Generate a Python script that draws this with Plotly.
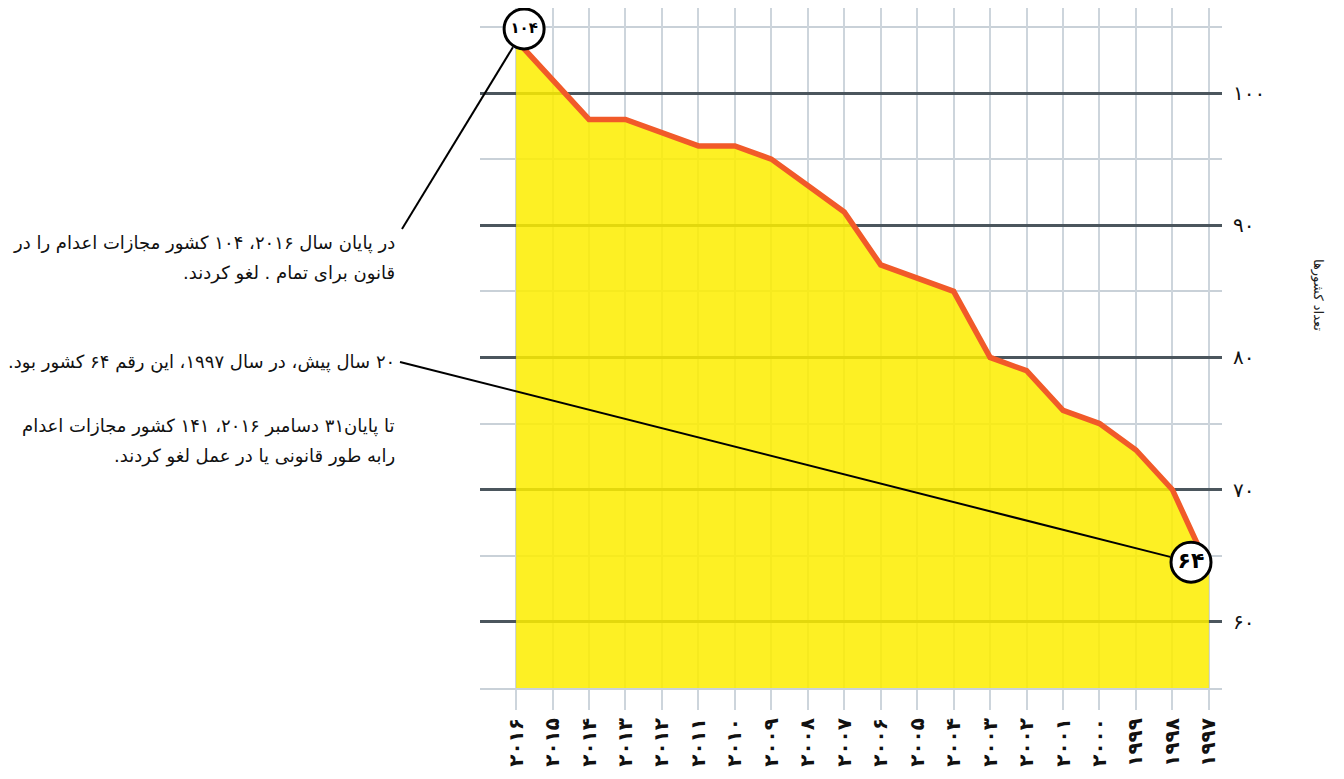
import plotly.graph_objects as go

# ---------------- data ----------------
years = [2016, 2015, 2014, 2013, 2012, 2011, 2010, 2009, 2008, 2007,
         2006, 2005, 2004, 2003, 2002, 2001, 2000, 1999, 1998, 1997]
countries = [104, 101, 98, 98, 97, 96, 96, 95, 93, 91,
             87, 86, 85, 80, 79, 76, 75, 73, 70, 64]
year_labels = ["۲۰۱۶", "۲۰۱۵", "۲۰۱۴", "۲۰۱۳", "۲۰۱۲", "۲۰۱۱", "۲۰۱۰", "۲۰۰۹", "۲۰۰۸", "۲۰۰۷",
               "۲۰۰۶", "۲۰۰۵", "۲۰۰۴", "۲۰۰۳", "۲۰۰۲", "۲۰۰۱", "۲۰۰۰", "۱۹۹۹", "۱۹۹۸", "۱۹۹۷"]
y_tick_vals = [60, 70, 80, 90, 100]
y_tick_labels = ["۶۰", "۷۰", "۸۰", "۹۰", "۱۰۰"]
callout_labels = ["۱۰۴", "۶۴"]
y_title = "تعداد کشورها"
note_lines = [
    "در پایان سال ۲۰۱۶، ۱۰۴ کشور مجازات اعدام را در",
    "قانون برای تمام . لغو کردند.",
    "۲۰ سال پیش، در سال ۱۹۹۷، این رقم ۶۴ کشور بود.",
    "تا پایان۳۱ دسامبر ۲۰۱۶، ۱۴۱ کشور مجازات اعدام",
    "رابه طور قانونی یا در عمل لغو کردند.",
]
note_line_y = [243, 273, 362, 426, 456]   # pixel rows of the text lines

# ---------------- layout geometry ----------------
OFF = 8                      # page body margin of the html page
W, H = 1344 - OFF, 779 - OFF
ML, MT = 480 - OFF, 0
PW, PH = 742, 680
MR, MB = W - ML - PW, H - MT - PH
x_range = [2016.99, 1996.64]
y_range = [55, 106.43]

FONT = "DejaVu Sans"
DARK_GRID = "#4b565d"
LIGHT_GRID = "#c9d1d8"
VGRID = "#cdd5dc"
ORANGE = "#f15a29"
YELLOW = "rgba(253,237,0,0.86)"
RLE, PDF = "\u202b", "\u202c"


def px_to_paper(px, py):
    """page pixel -> paper coordinates"""
    return (px - OFF - ML) / PW, (H - MB - (py - OFF)) / PH


def data_to_page(x, y):
    fx = (x - x_range[0]) / (x_range[1] - x_range[0])
    fy = (y - y_range[0]) / (y_range[1] - y_range[0])
    return OFF + ML + fx * PW, OFF + H - MB - fy * PH


fig = go.Figure()

fig.add_trace(go.Scatter(
    x=years, y=countries, mode="lines",
    line=dict(color=ORANGE, width=5.5),
    fill="tozeroy", fillcolor=YELLOW,
    hoverinfo="skip", showlegend=False,
))

# callout circles (offset slightly from the first / last data point)
c_off = [(-0.22, 0.85), (0.49, 0.52)]
cx = [years[0] + c_off[0][0], years[-1] + c_off[1][0]]
cy = [countries[0] + c_off[0][1], countries[-1] + c_off[1][1]]
fig.add_trace(go.Scatter(
    x=cx, y=cy, mode="markers+text",
    marker=dict(size=40, color="white", line=dict(color="black", width=3)),
    text=[f"<b>{t}</b>" for t in callout_labels],
    textfont=dict(family=FONT, size=[15, 22], color="black"),
    textposition="middle center",
    cliponaxis=False, hoverinfo="skip", showlegend=False,
))

# callout leader lines
r_px = 21.5
for (sx, sy), (dx, dy) in [((402, 229), (cx[0], cy[0])), ((400, 362), (cx[1], cy[1]))]:
    cpx, cpy = data_to_page(dx, dy)
    vx, vy = sx - cpx, sy - cpy
    L = (vx ** 2 + vy ** 2) ** 0.5
    epx, epy = cpx + vx / L * r_px, cpy + vy / L * r_px
    p0 = px_to_paper(sx, sy)
    p1 = px_to_paper(epx, epy)
    fig.add_shape(type="line", xref="paper", yref="paper",
                  x0=p0[0], y0=p0[1], x1=p1[0], y1=p1[1],
                  line=dict(color="black", width=2))

# text notes (one annotation per line, right aligned)
for txt, py in zip(note_lines, note_line_y):
    px_, py_ = px_to_paper(397, py)
    fig.add_annotation(
        x=px_, y=py_, xref="paper", yref="paper",
        text=RLE + txt + PDF, showarrow=False, xanchor="right", yanchor="middle",
        align="right", font=dict(family=FONT, size=18, color="#111"),
    )

# y-axis title
tx, ty = px_to_paper(1318, 295)
fig.add_annotation(
    x=tx, y=ty, xref="paper", yref="paper", text=y_title, showarrow=False,
    textangle=90, font=dict(family=FONT, size=13, color="#222"),
    xanchor="center", yanchor="middle",
)

fig.update_layout(
    width=W, height=H,
    margin=dict(l=ML, r=MR, t=MT, b=MB, pad=0, autoexpand=False),
    plot_bgcolor="white", paper_bgcolor="white",
    showlegend=False,
    xaxis=dict(
        range=x_range, tickmode="array", tickvals=years,
        ticktext=[f"<b>{t}</b>" for t in year_labels],
        tickangle=-90, tickfont=dict(family=FONT, size=20, color="#111"),
        showgrid=True, gridcolor=VGRID, gridwidth=2,
        ticks="outside", ticklen=20, tickwidth=2, tickcolor=VGRID,
        showline=True, linecolor=LIGHT_GRID, linewidth=2,
        zeroline=False, fixedrange=True,
    ),
    yaxis=dict(
        range=y_range, side="right", tickmode="array",
        tickvals=y_tick_vals, ticktext=y_tick_labels,
        tickfont=dict(family=FONT, size=20, color="#111"),
        showgrid=True, gridcolor=DARK_GRID, gridwidth=3,
        minor=dict(dtick=5, tick0=0, showgrid=True, gridcolor=LIGHT_GRID, gridwidth=1.5),
        ticks="", ticklabelstandoff=10,
        zeroline=False, showline=False, fixedrange=True,
    ),
)

fig.write_html("out.html")
